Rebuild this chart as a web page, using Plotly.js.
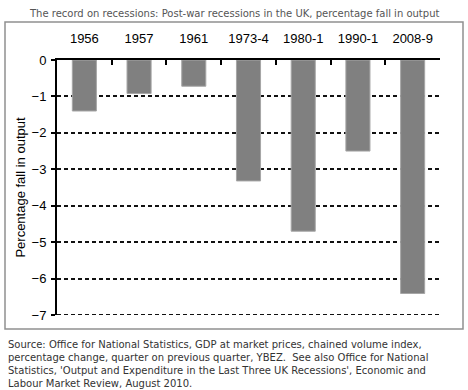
<!DOCTYPE html>
<html><head><meta charset="utf-8">
<script src="https://cdn.plot.ly/plotly-3.0.1.min.js"></script>
<style>body{margin:0;background:#fff}#c{width:468px;height:390px}</style>
</head><body><div id="c"></div>
<script>
var categories = ["1956","1957","1961","1973-4","1980-1","1990-1","2008-9"];
var falls = [-1.4, -0.92, -0.72, -3.32, -4.7, -2.5, -6.41];
var titleText = "The record on recessions: Post-war recessions in the UK, percentage fall in output";
var yTitle = "Percentage fall in output";
var sourceText = "Source: Office for National Statistics, GDP at market prices, chained volume index,<br>percentage change, quarter on previous quarter, YBEZ.  See also Office for National<br>Statistics, 'Output and Expenditure in the Last Three UK Recessions', Economic and<br>Labour Market Review, August 2010.";

var L=57, R=440, T=60, B=315, W=468, H=390;
function px(x){return (x-L)/(R-L);}
function py(y){return (B-y)/(B-T);}

var data = [{
  type:"bar", x:categories, y:falls,
  marker:{color:"#808080", line:{color:"#a6a6a6", width:1}},
  width:0.44, hoverinfo:"skip"
}];
var layout = {
  width:W, height:H, showlegend:false,
  paper_bgcolor:"#fff", plot_bgcolor:"#fff",
  margin:{l:L, r:W-R, t:T, b:H-B},
  font:{family:"Liberation Sans, Arial, sans-serif", size:13, color:"#000"},
  bargap:0.56,
  xaxis:{type:"category", side:"top", showline:true, linewidth:2, linecolor:"#000",
    ticks:"inside", tickson:"boundaries", ticklen:5, tickwidth:2, tickcolor:"#000",
    showgrid:false, zeroline:false, ticklabelstandoff:10,
    tickfont:{family:"Liberation Sans, Arial, sans-serif", size:13}},
  yaxis:{range:[-7,0], dtick:1, tick0:0, showline:true, linewidth:2, linecolor:"#000",
    ticks:"outside", ticklen:4, tickwidth:2, tickcolor:"#000",
    showgrid:true, gridcolor:"#111", gridwidth:2, griddash:"4px,3px",
    zeroline:false, ticklabelstandoff:2,
    tickfont:{family:"Liberation Sans, Arial, sans-serif", size:13},
    title:{text:yTitle, standoff:3, font:{family:"Liberation Sans, Arial, sans-serif", size:13}}},
  shapes:[
    {type:"rect", xref:"paper", yref:"paper", x0:px(5), x1:px(463), y0:py(22), y1:py(329),
      line:{color:"#909090", width:1.5}, fillcolor:"rgba(0,0,0,0)", layer:"below"},
    {type:"line", xref:"paper", yref:"y", x0:0, x1:1, y0:-7, y1:-7,
      line:{color:"#111", width:2, dash:"4px,3px"}, layer:"below"}
  ],
  annotations:[
    {xref:"paper", yref:"paper", x:px(234), y:py(13), text:titleText, showarrow:false,
      xanchor:"center", yanchor:"middle",
      font:{family:"DejaVu Sans, Verdana, sans-serif", size:10, color:"#555"}},
    {xref:"paper", yref:"paper", x:px(6), y:py(337), text:sourceText, showarrow:false,
      xanchor:"left", yanchor:"top", align:"left",
      font:{family:"DejaVu Sans, Verdana, sans-serif", size:10, color:"#333"}}
  ]
};
Plotly.newPlot("c", data, layout, {displayModeBar:false, staticPlot:true});
</script></body></html>
